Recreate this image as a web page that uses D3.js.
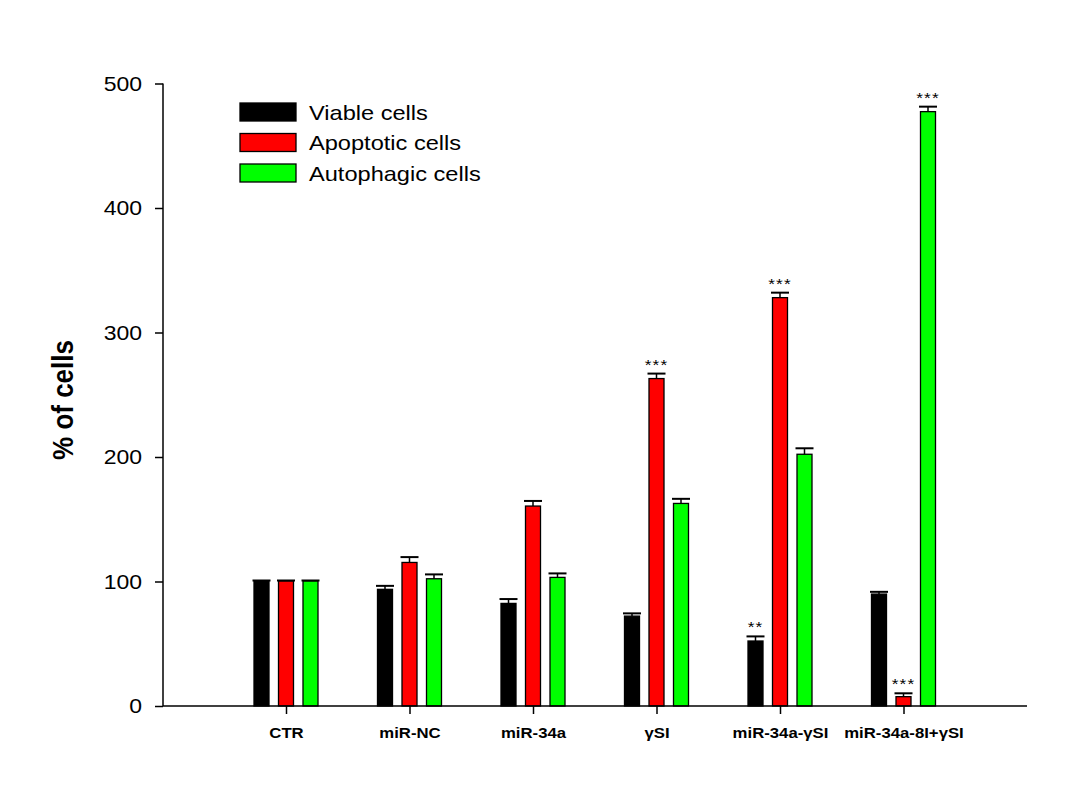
<!DOCTYPE html>
<html>
<head>
<meta charset="utf-8">
<script src="https://cdn.jsdelivr.net/npm/d3@7"></script>
<style>
  html, body { margin: 0; padding: 0; background: #fff; }
  svg { display: block; }
  text { font-family: "Liberation Sans", Arial, sans-serif; fill: #000; }
</style>
</head>
<body>
<svg id="chart" width="1084" height="799"></svg>
<script>
const categories = ["CTR", "miR-NC", "miR-34a", "\u03b3SI", "miR-34a-\u03b3SI", "miR-34a-8I+\u03b3SI"];
const seriesNames = ["Viable cells", "Apoptotic cells", "Autophagic cells"];
const seriesColors = ["#000000", "#ff0000", "#00ff00"];
const viable      = [100.5, 93.7, 82.4, 72.2, 52.2, 89.9];
const viableErr   = [0.3, 2.8, 3.5, 2.2, 3.7, 1.8];
const apoptotic   = [100.5, 115.3, 160.6, 263, 328, 7.5];
const apoptoticErr= [0.3, 4.3, 4.1, 4.0, 4.0, 2.7];
const autophagic  = [100.5, 102.2, 103.3, 162.7, 202.2, 477.4];
const autophagicErr=[0.3, 3.5, 3.2, 3.7, 4.8, 4.0];
const yTicks = [0, 100, 200, 300, 400, 500];
// significance marks: [category index, series index, label]
const sigMarks = [[3, 1, "***"], [4, 0, "**"], [4, 1, "***"], [5, 1, "***"], [5, 2, "***"]];

const values = [viable, apoptotic, autophagic];
const errors = [viableErr, apoptoticErr, autophagicErr];

const svg = d3.select("#chart");
const axisLeftX = 163, axisRightX = 1027;
const y = d3.scaleLinear().domain([0, 500]).range([706, 83.5]);
const x = d3.scalePoint().domain(categories).range([286, 903.5]);
const xs = d3.scalePoint().domain(seriesNames).range([-24.5, 24.5]);
const barW = 15;
const sx = 1.15; // horizontal text stretch of the original

// bars
seriesNames.forEach((s, si) => {
  const g = svg.append("g");
  g.selectAll("rect").data(categories).join("rect")
    .attr("x", c => x(c) + xs(s) - barW / 2)
    .attr("y", (c, i) => y(values[si][i]))
    .attr("width", barW)
    .attr("height", (c, i) => y(0) - y(values[si][i]))
    .attr("fill", seriesColors[si])
    .attr("stroke", "#000")
    .attr("stroke-width", 1.3);
  // error bars
  g.selectAll("line.err").data(categories).join("line")
    .attr("class", "err")
    .attr("x1", c => x(c) + xs(s)).attr("x2", c => x(c) + xs(s))
    .attr("y1", (c, i) => y(values[si][i]))
    .attr("y2", (c, i) => y(values[si][i] + errors[si][i]))
    .attr("stroke", "#000").attr("stroke-width", 1.5);
  g.selectAll("line.cap").data(categories).join("line")
    .attr("class", "cap")
    .attr("x1", c => x(c) + xs(s) - 9).attr("x2", c => x(c) + xs(s) + 9)
    .attr("y1", (c, i) => y(values[si][i] + errors[si][i]))
    .attr("y2", (c, i) => y(values[si][i] + errors[si][i]))
    .attr("stroke", "#000").attr("stroke-width", 2);
});

// significance
svg.append("g").selectAll("text").data(sigMarks).join("text")
  .attr("transform", d => {
    const cx = x(categories[d[0]]) + xs(seriesNames[d[1]]);
    const cy = y(values[d[1]][d[0]] + errors[d[1]][d[0]]) - 4;
    return `translate(${cx},${cy}) scale(${sx},1)`;
  })
  .attr("text-anchor", "middle")
  .attr("font-size", 15)
  .attr("letter-spacing", 1)
  .attr("fill", "#222")
  .text(d => d[2]);

// y axis
const yAxis = d3.axisLeft(y).tickValues(yTicks).tickSize(8).tickPadding(10);
const gy = svg.append("g").attr("transform", `translate(${axisLeftX},0)`).call(yAxis);
gy.select(".domain").attr("d", `M0,${y(500)}V${y(0)}`).attr("stroke", "#000").attr("stroke-width", 1.5);
gy.selectAll(".tick line").attr("stroke", "#000").attr("stroke-width", 1.5);
gy.selectAll(".tick text")
  .attr("font-size", 20)
  .attr("font-family", "Liberation Sans, Arial, sans-serif")
  .attr("x", null).attr("dy", null)
  .attr("text-anchor", "end")
  .attr("dominant-baseline", "central")
  .attr("transform", `translate(-21,0) scale(${sx},1)`);

// x axis
const xAxis = d3.axisBottom(x).tickSize(8).tickPadding(8);
const gx = svg.append("g").attr("transform", `translate(0,${y(0)})`).call(xAxis);
gx.select(".domain").attr("d", `M${axisLeftX},0H${axisRightX}`).attr("stroke", "#000").attr("stroke-width", 1.5);
gx.selectAll(".tick line").attr("stroke", "#000").attr("stroke-width", 1.5);
gx.selectAll(".tick text")
  .attr("font-size", 15.5)
  .attr("font-weight", "bold")
  .attr("font-family", "Liberation Sans, Arial, sans-serif")
  .attr("y", null).attr("dy", null)
  .attr("transform", `translate(0,32) scale(1.08,1)`);

// y title
svg.append("text")
  .attr("transform", `translate(73,400) rotate(-90) scale(1,1.12)`)
  .attr("text-anchor", "middle")
  .attr("font-size", 26)
  .attr("font-weight", "bold")
  .text("% of cells");

// legend
const lg = svg.append("g");
seriesNames.forEach((s, i) => {
  const ly = 103 + i * 30.5;
  lg.append("rect").attr("x", 240).attr("y", ly).attr("width", 56).attr("height", 18)
    .attr("fill", seriesColors[i]).attr("stroke", "#000").attr("stroke-width", 1.3);
  lg.append("text")
    .attr("transform", `translate(309,${ly + 16.5}) scale(1.18,1)`)
    .attr("font-size", 20)
    .text(s);
});
</script>
</body>
</html>
